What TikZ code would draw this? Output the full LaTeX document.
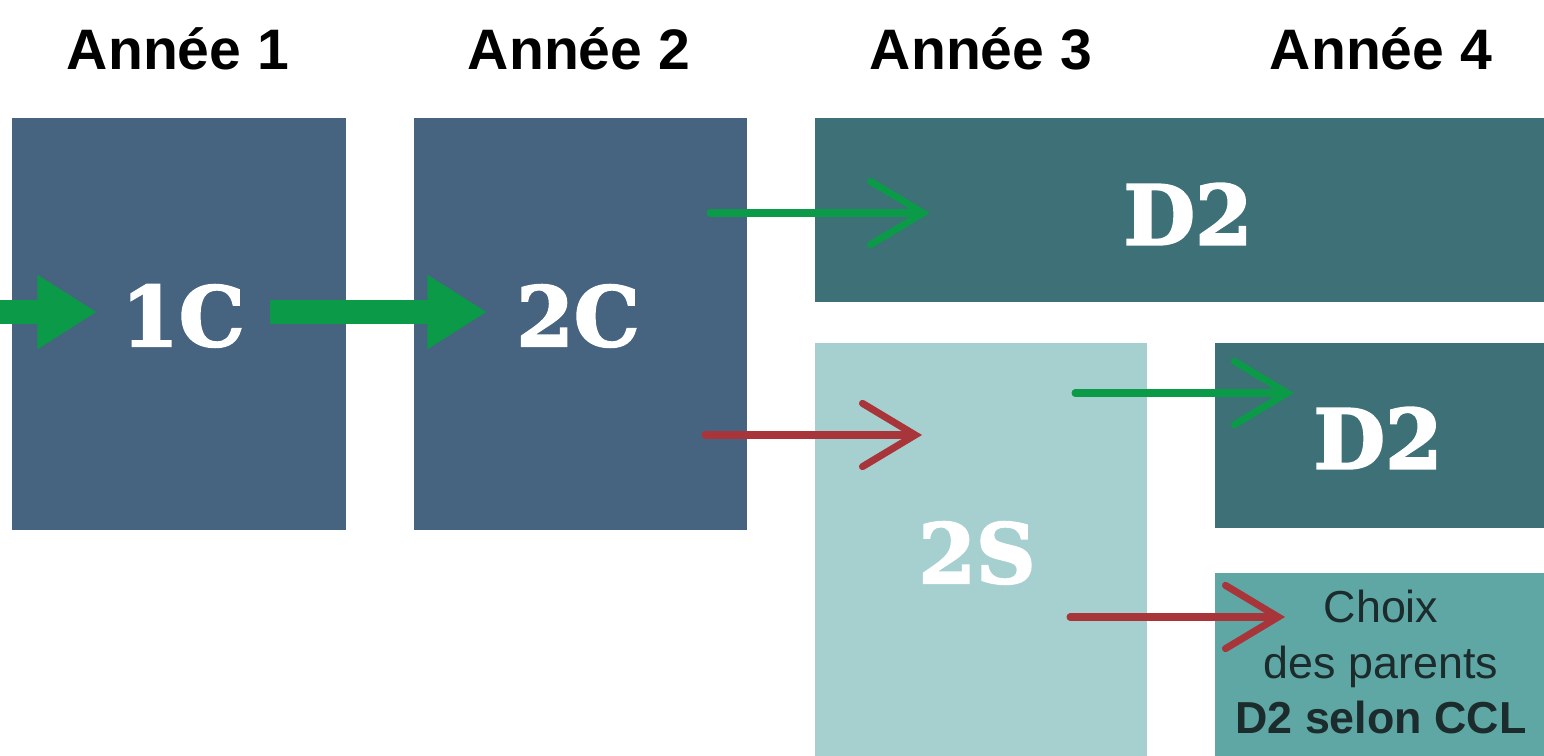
\documentclass[tikz,border=0pt]{standalone}
\usepackage{fontspec}
\setmainfont{Liberation Sans}
\newfontfamily\slabfont[FakeBold=2.5]{DejaVu Serif Bold}
\usetikzlibrary{arrows.meta}
\definecolor{navybox}{HTML}{46637F}
\definecolor{tealdark}{HTML}{3D7077}
\definecolor{teallight}{HTML}{A6D0CF}
\definecolor{tealmid}{HTML}{5EA7A5}
\definecolor{arrgreen}{HTML}{0A9A48}
\definecolor{arrred}{HTML}{A8353A}
\definecolor{txtdark}{HTML}{1C2B2B}
\tikzset{
  box/.style={rectangle, inner sep=0pt, outer sep=0pt, draw=none},
  header/.style={font=\fontsize{32.5}{38}\selectfont\bfseries, text=black},
  big/.style={font=\slabfont\fontsize{47}{54}\selectfont, text=white},
  thick arrow/.style={draw=arrgreen, line width=14pt, -{Triangle[length=34pt,width=40pt]}},
  thin arrow/.style={line width=4pt, line cap=round, -{Straight Barb[length=30pt,width=36pt,line cap=round]}},
}
\begin{document}
\begin{tikzpicture}[x=0.02cm,y=-0.02cm]
\useasboundingbox (0,0) rectangle (1544,756);
\fill[white] (0,0) rectangle (1544,756);
% boxes
\node[box, fill=navybox, minimum width=6.68cm, minimum height=8.24cm] (b1c) at (179,324) {};
\node[box, fill=navybox, minimum width=6.66cm, minimum height=8.24cm] (b2c) at (580.5,324) {};
\node[box, fill=tealdark, minimum width=14.58cm, minimum height=3.68cm] (bd2a) at (1179.5,210) {};
\node[box, fill=teallight, minimum width=6.64cm, minimum height=8.26cm] (b2s) at (981,549.5) {};
\node[box, fill=tealdark, minimum width=6.58cm, minimum height=3.7cm] (bd2b) at (1379.5,435.5) {};
\node[box, fill=tealmid, minimum width=6.58cm, minimum height=3.66cm] (bch) at (1379.5,664.5) {};
% headers
\node[header] (h1) at (178,49) {Année 1};
\node[header] (h2) at (579,49) {Année 2};
\node[header] (h3) at (981,49) {Année 3};
\node[header] (h4) at (1381,49) {Année 4};
% arrow end points
\coordinate (in0) at (0,312);
\coordinate (in1) at (97,312);
\coordinate (c1s) at (270,312);
\coordinate (c1e) at (487,312);
\coordinate (g1s) at (710,213);
\coordinate (g1e) at (930,213);
\coordinate (r1s) at (705,435);
\coordinate (r1e) at (922,435);
\coordinate (g2s) at (1075,393);
\coordinate (g2e) at (1294,393);
\coordinate (r2s) at (1070,617);
\coordinate (r2e) at (1285,617);
% arrows
\draw[thick arrow] (in0) -- (in1);
\draw[thick arrow] (c1s) -- (c1e);
\draw[thin arrow, draw=arrgreen] (g1s) -- (g1e);
\draw[thin arrow, draw=arrred] (r1s) -- (r1e);
\draw[thin arrow, draw=arrgreen] (g2s) -- (g2e);
\draw[thin arrow, draw=arrred] (r2s) -- (r2e);
% labels
\node[big] (l1c) at (183,316) {1C};
\node[big] (l2c) at (578,316) {2C};
\node[big] (ld2a) at (1188,214) {D2};
\node[big] (l2s) at (977,553) {2S};
\node[big] (ld2b) at (1378,438) {D2};
\node[text=txtdark, align=center, font=\fontsize{25.5}{31.5}\selectfont] (lch) at (1381,662) {Choix\\des parents\\\textbf{D2 selon CCL}};
\end{tikzpicture}
\end{document}
